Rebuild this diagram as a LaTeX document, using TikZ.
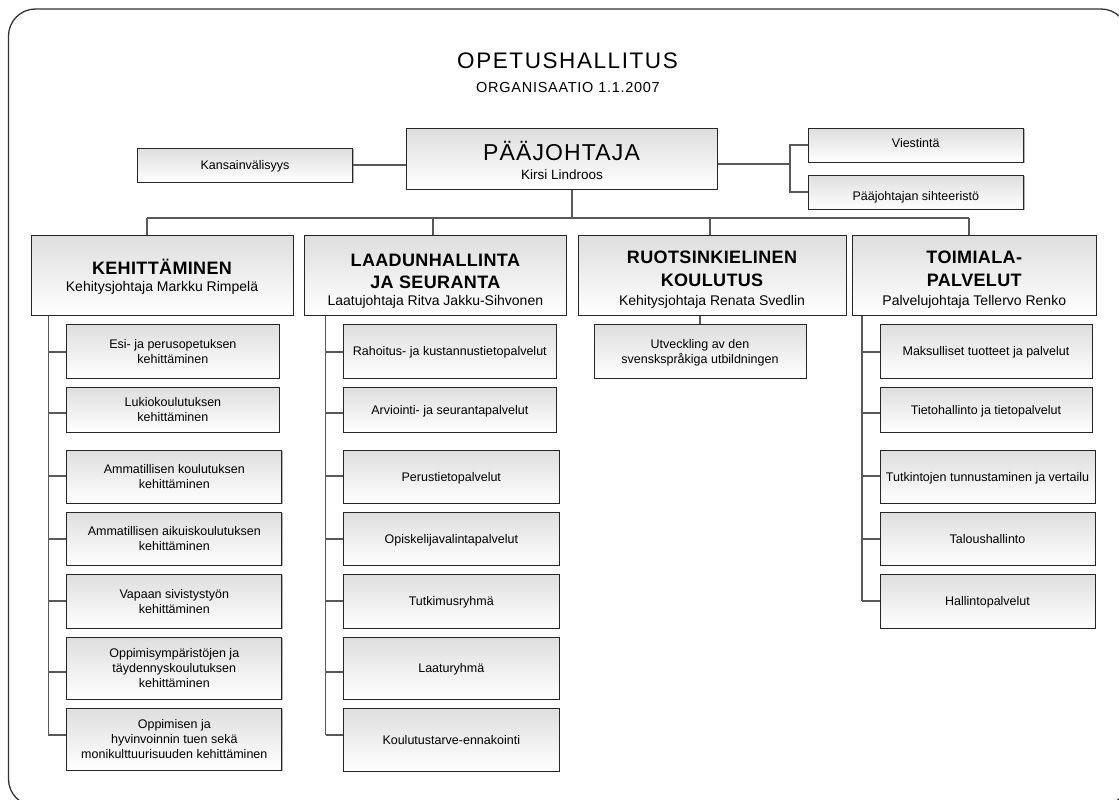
\documentclass[tikz,border=0pt]{standalone}
\usepackage{fontspec}
\setmainfont{Liberation Sans}
\newfontfamily\titlef[LetterSpace=7]{Liberation Sans}
\newfontfamily\orgf[LetterSpace=5]{Liberation Sans}
\newfontfamily\chieff[LetterSpace=5]{Liberation Sans}
\newfontfamily\depf[LetterSpace=2]{Liberation Sans}
\usetikzlibrary{shadows}
\newcommand\obox[7][]{\node[box,#1,minimum width=#5pt-#3pt,minimum height=#6pt-#4pt] (#2) at ({(#3+#5)/2},{(#4+#6)/2}) {#7};}
\tikzset{
  conn/.style={draw=black!65, line width=1.3pt},
  frame/.style={draw=black!80, line width=1.3pt, rounded corners=27pt},
  box/.style={rectangle, draw=black!85, line width=1pt, top color=black!13, bottom color=white,
    inner sep=0pt, align=center, font=\fontsize{12.5}{15}\selectfont, text depth=0pt,
    drop shadow={shadow xshift=1pt, shadow yshift=-1pt, fill=black!30, opacity=1}},
  lbl/.style={inner sep=0pt, anchor=base},
  smalltxt/.style={lbl, font=\fontsize{12.5}{15}\selectfont},
  depbold/.style={lbl, font={\depf\bfseries\fontsize{18}{21}\selectfont}},
  depsub/.style={lbl, font=\fontsize{14}{17}\selectfont},
}
\begin{document}
\begin{tikzpicture}[x=1pt,y=-1pt]
\useasboundingbox (0,0) rectangle (1119,800);
\clip (0,0) rectangle (1119,800);
\draw[frame] (8.5,9) rectangle (1128,806);

% titles
\node[lbl, font={\titlef\fontsize{22.5}{27}\selectfont}] (title) at (567.5,68.3) {OPETUSHALLITUS};
\node[lbl, font={\orgf\fontsize{14.5}{17}\selectfont}] (org) at (568,92.3) {ORGANISAATIO 1.1.2007};

% top level
\obox{top}{406}{128}{717}{189}{}
\node[lbl, font={\chieff\fontsize{23}{27}\selectfont}] (topt) at (561.5,160) {PÄÄJOHTAJA};
\node[lbl, font=\fontsize{13.5}{16}\selectfont] (topn) at (562,179.3) {Kirsi Lindroos};

\obox{kv}{137.5}{148}{352.5}{182}{Kansainvälisyys}
\obox{vi}{808}{128}{1023.5}{162}{}
\node[smalltxt] (vit) at (915.75,147) {Viestintä};
\obox{ps}{808}{175}{1023.5}{209}{}
\node[smalltxt] (pst) at (915.75,200) {Pääjohtajan sihteeristö};

\draw[conn] (kv.east) -- (kv.east -| top.west);
\coordinate (jr) at (790,164);
\draw[conn] (top.east |- jr) -- (jr);
\draw[conn] (vi.west) -| (jr) |- (ps.west);

% departments
\obox{k}{31}{235}{293}{315}{}
\obox{l}{304.3}{235}{566.4}{315}{}
\obox{r}{578}{235}{846}{315}{}
\obox{t}{852.5}{235}{1096}{315}{}

\coordinate (bus) at (572,218);
\coordinate (d1) at (147,218);
\coordinate (d2) at (433,218);
\coordinate (d3) at (710,218);
\coordinate (d4) at (969,218);
\draw[conn] (bus |- top.south) -- (bus);
\draw[conn] (d1) -- (d4);
\draw[conn] (d1) -- (d1 |- k.north);
\draw[conn] (d2) -- (d2 |- l.north);
\draw[conn] (d3) -- (d3 |- r.north);
\draw[conn] (d4) -- (d4 |- t.north);

\node[depbold] (kt1) at (162,274) {KEHITTÄMINEN};
\node[depsub] (kt2) at (162,291) {Kehitysjohtaja Markku Rimpelä};
\node[depbold] (lt1) at (435.35,266.5) {LAADUNHALLINTA};
\node[depbold] (lt2) at (435.35,288) {JA SEURANTA};
\node[depsub] (lt3) at (435.35,305.5) {Laatujohtaja Ritva Jakku-Sihvonen};
\node[depbold] (rt1) at (712,263.5) {RUOTSINKIELINEN};
\node[depbold] (rt2) at (712,286) {KOULUTUS};
\node[depsub] (rt3) at (712,305) {Kehitysjohtaja Renata Svedlin};
\node[depbold] (tt1) at (974.25,263.5) {TOIMIALA-};
\node[depbold] (tt2) at (974.25,286) {PALVELUT};
\node[depsub] (tt3) at (974.25,305) {Palvelujohtaja Tellervo Renko};

% Kehittaminen units
\obox{k1}{66.8}{324}{279}{378}{Esi- ja perusopetuksen\\kehittäminen}
\obox{k2}{66.8}{387}{279}{432}{Lukiokoulutuksen\\kehittäminen}
\obox{k3}{66.8}{450}{281.8}{503}{Ammatillisen koulutuksen\\kehittäminen}
\obox{k4}{66.8}{512}{281.8}{565}{Ammatillisen aikuiskoulutuksen\\kehittäminen}
\obox{k5}{66.8}{574}{281.8}{628}{Vapaan sivistystyön\\kehittäminen}
\obox{k6}{66.8}{637}{281.8}{699}{Oppimisympäristöjen ja\\täydennyskoulutuksen\\kehittäminen}
\obox{k7}{66.8}{708}{281.8}{770}{Oppimisen ja\\hyvinvoinnin tuen sekä\\monikulttuurisuuden kehittäminen}

% Laadunhallinta units
\obox{l1}{343.6}{324}{556}{378}{Rahoitus- ja kustannustietopalvelut}
\obox{l2}{343.6}{387}{556}{432}{Arviointi- ja seurantapalvelut}
\obox{l3}{343.6}{450}{559}{503}{Perustietopalvelut}
\obox{l4}{343.6}{512}{559}{565}{Opiskelijavalintapalvelut}
\obox{l5}{343.6}{574}{559}{628}{Tutkimusryhmä}
\obox{l6}{343.6}{637}{559}{699}{Laaturyhmä}
\obox{l7}{343.6}{708}{559}{771}{Koulutustarve-ennakointi}

% Ruotsinkielinen unit
\obox{r1}{594}{324}{806}{378}{Utveckling av den\\svenskspråkiga utbildningen}
\draw[conn] (r1.north |- r.south) -- (r1.north);

% Toimialapalvelut units
\obox{t1}{880}{324}{1092}{378}{Maksulliset tuotteet ja palvelut}
\obox{t2}{880}{387}{1092}{432}{Tietohallinto ja tietopalvelut}
\obox{t3}{880}{450}{1095}{503}{Tutkintojen tunnustaminen ja vertailu}
\obox{t4}{880}{512}{1095}{565}{Taloushallinto}
\obox{t5}{880}{574}{1095}{628}{Hallintopalvelut}

% trees
\coordinate (kx) at (48.2,0);
\coordinate (lx) at (325.7,0);
\coordinate (tx) at (862,0);
\draw[conn] (kx |- k.south) -- (kx |- 0,735);
\draw[conn] (lx |- l.south) -- (lx |- 0,735);
\draw[conn] (tx |- t.south) -- (tx |- 0,601);
\foreach \c/\y in {k1/352,k2/413,k3/476,k4/539,k5/601,k6/672,k7/735}
  \draw[conn] (kx |- 0,\y) -- (\c.west |- 0,\y);
\foreach \c/\y in {l1/352,l2/413,l3/476,l4/539,l5/601,l6/672,l7/735}
  \draw[conn] (lx |- 0,\y) -- (\c.west |- 0,\y);
\foreach \c/\y in {t1/352,t2/413,t3/476,t4/539,t5/601}
  \draw[conn] (tx |- 0,\y) -- (\c.west |- 0,\y);
\end{tikzpicture}
\end{document}
